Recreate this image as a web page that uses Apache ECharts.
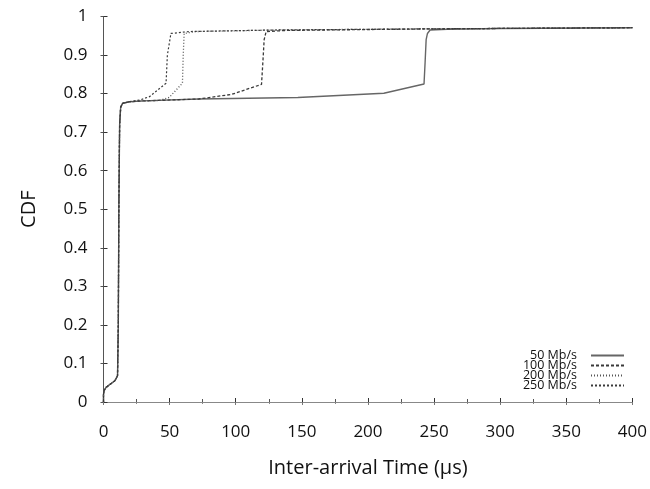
<!DOCTYPE html>
<html>
<head>
<meta charset="utf-8">
<script src="https://cdn.jsdelivr.net/npm/echarts@6/dist/echarts.min.js"></script>
<style>
html,body{margin:0;padding:0;background:#fff;}
#c{width:650px;height:489px;}
</style>
</head>
<body>
<div id="c"></div>
<script>
var seriesNames = ['50 Mb/s', '100 Mb/s', '200 Mb/s', '250 Mb/s'];
var xTicks = [0, 50, 100, 150, 200, 250, 300, 350, 400];
var yTicks = [0, 0.1, 0.2, 0.3, 0.4, 0.5, 0.6, 0.7, 0.8, 0.9, 1];

var x50 = [0, 0, 0.5, 2, 5, 8.6, 10.6, 11.2, 11.6, 12.2, 13, 14.5, 19.8, 30, 72, 147, 212, 242.4, 243.2, 244, 245, 247, 260, 300, 400];
var y50 = [0, 0.02, 0.03, 0.038, 0.046, 0.055, 0.068, 0.2, 0.5, 0.72, 0.765, 0.775, 0.779, 0.781, 0.786, 0.790, 0.801, 0.825, 0.88, 0.94, 0.956, 0.965, 0.967, 0.969, 0.971];

var x100 = [0, 0, 0.5, 2, 5, 8.6, 10.6, 11.2, 11.6, 12.2, 13, 14.5, 19.8, 30, 72, 97, 119.5, 120.5, 121.5, 123, 140, 250, 400];
var y100 = [0, 0.02, 0.03, 0.038, 0.046, 0.055, 0.068, 0.2, 0.5, 0.72, 0.765, 0.775, 0.779, 0.781, 0.786, 0.798, 0.824, 0.88, 0.94, 0.961, 0.964, 0.968, 0.971];

var x200 = [0, 0, 0.5, 2, 5, 8.6, 10.6, 11.2, 11.6, 12.2, 13, 14.5, 19.8, 30, 42, 49.7, 59.7, 60.3, 61, 70, 130, 250, 400];
var y200 = [0, 0.02, 0.03, 0.038, 0.046, 0.055, 0.068, 0.2, 0.5, 0.72, 0.765, 0.775, 0.779, 0.781, 0.782, 0.790, 0.827, 0.9, 0.956, 0.961, 0.965, 0.968, 0.971];

var x250 = [0, 0, 0.5, 2, 5, 8.6, 10.6, 11.2, 11.6, 12.2, 13, 14.5, 19.8, 28, 34.8, 47.3, 48.3, 51, 64.7, 130, 250, 400];
var y250 = [0, 0.02, 0.03, 0.038, 0.046, 0.055, 0.068, 0.2, 0.5, 0.72, 0.765, 0.775, 0.779, 0.784, 0.792, 0.827, 0.9, 0.956, 0.961, 0.965, 0.968, 0.971];

function zip(xs, ys) { return xs.map(function (x, i) { return [x, ys[i]]; }); }

var FONT = '"Open Sans", "Noto Sans", sans-serif';
var chart = echarts.init(document.getElementById('c'), null, { renderer: 'canvas' });

var styles = [
  { color: '#666666', type: 'solid', width: 1.4 },
  { color: '#3a3a3a', type: [3, 2], width: 1.3 },
  { color: '#555555', type: [1, 2], width: 1.3 },
  { color: '#3a3a3a', type: [2, 2], width: 1.2 }
];
var datas = [zip(x50, y50), zip(x100, y100), zip(x200, y200), zip(x250, y250)];

var option = {
  animation: false,
  backgroundColor: '#ffffff',
  grid: { left: 103.5, right: 11, top: 16.5, bottom: 87, containLabel: false },
  legend: {
    orient: 'vertical',
    right: 25,
    top: 349,
    align: 'right',
    itemWidth: 33,
    itemHeight: 9,
    itemGap: -3,
    padding: 0,
    itemStyle: { opacity: 0 },
    textStyle: { fontSize: 12.5, lineHeight: 9, fontFamily: FONT, color: '#111', padding: [0, 9, 0, 0] },
    data: seriesNames
  },
  xAxis: [{
    type: 'value',
    min: xTicks[0],
    max: xTicks[xTicks.length - 1],
    interval: 50,
    name: 'Inter-arrival Time (µs)',
    nameLocation: 'middle',
    nameGap: 56,
    nameTextStyle: { fontSize: 20, fontFamily: FONT, color: '#111' },
    axisLine: { show: true, lineStyle: { color: '#333', width: 1 } },
    axisTick: { show: true, inside: true, length: 4, lineStyle: { color: '#333' } },
    minorTick: { show: true, splitNumber: 2, length: 3, lineStyle: { color: '#555' } },
    axisLabel: { fontSize: 17, fontFamily: FONT, color: '#111', margin: 22 },
    splitLine: { show: false }
  }, {
    type: 'value',
    position: 'top',
    min: xTicks[0],
    max: xTicks[xTicks.length - 1],
    interval: 50,
    axisLine: { show: true, lineStyle: { color: '#888', width: 1 } },
    axisTick: { show: true, inside: true, length: 3, lineStyle: { color: '#777' } },
    minorTick: { show: true, splitNumber: 2, length: 2, lineStyle: { color: '#888' } },
    axisLabel: { show: false },
    splitLine: { show: false }
  }],
  yAxis: [{
    type: 'value',
    min: yTicks[0],
    max: yTicks[yTicks.length - 1],
    interval: 0.1,
    name: 'CDF',
    nameLocation: 'middle',
    nameGap: 64,
    nameRotate: 90,
    nameTextStyle: { fontSize: 20, fontFamily: FONT, color: '#111' },
    axisLine: { show: true, lineStyle: { color: '#333', width: 1 } },
    axisTick: { show: true, inside: true, length: 4, lineStyle: { color: '#333' } },
    axisLabel: { fontSize: 17, fontFamily: FONT, color: '#111', margin: 16,
      formatter: function (v) { return String(Math.round(v * 10) / 10); } },
    splitLine: { show: false }
  }, {
    type: 'value',
    position: 'right',
    min: yTicks[0],
    max: yTicks[yTicks.length - 1],
    interval: 0.1,
    axisLine: { show: true, lineStyle: { color: '#555', width: 1 } },
    axisTick: { show: true, inside: true, length: 3, lineStyle: { color: '#555' } },
    axisLabel: { show: false },
    splitLine: { show: false }
  }],
  series: seriesNames.map(function (n, i) {
    return {
      name: n,
      type: 'line',
      xAxisIndex: 0,
      yAxisIndex: 0,
      data: datas[i],
      symbol: 'none',
      showSymbol: false,
      smooth: false,
      color: styles[i].color,
      lineStyle: { color: styles[i].color, type: styles[i].type, width: styles[i].width }
    };
  })
};
chart.setOption(option);
</script>
</body>
</html>
